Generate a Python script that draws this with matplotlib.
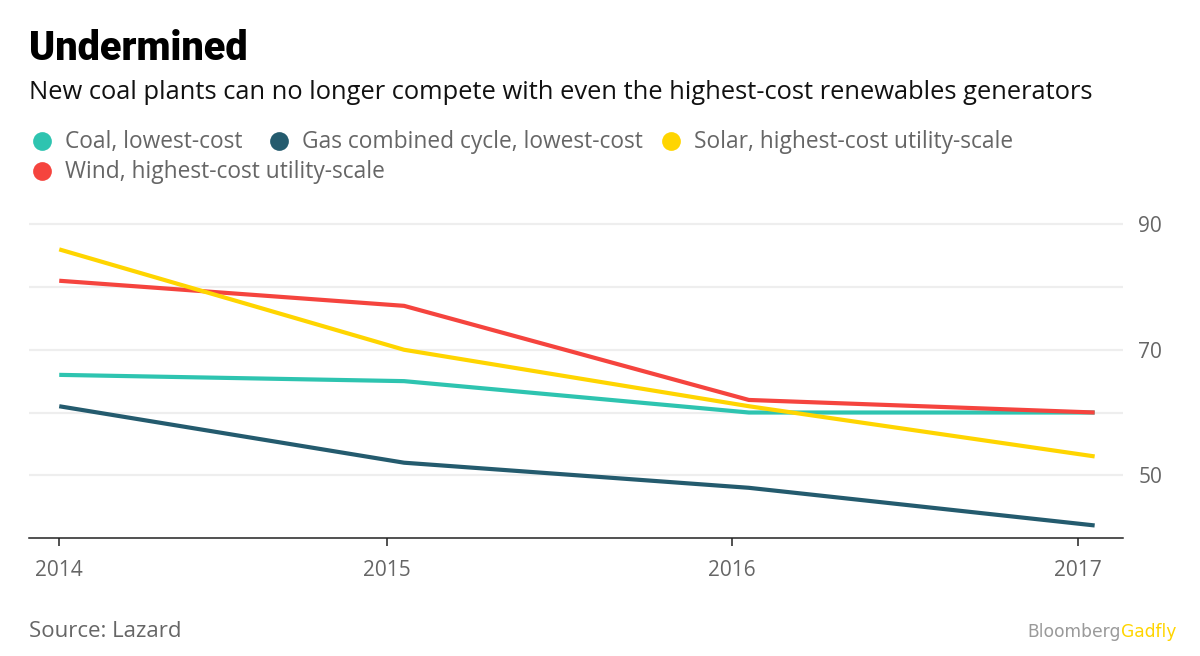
"""Undermined — LCOE of new coal vs gas, solar and wind (Lazard)."""

import matplotlib
matplotlib.use("Agg")
import matplotlib.pyplot as plt
import pandas as pd
from matplotlib.lines import Line2D

# data
DATES = pd.to_datetime(["2014-01-19", "2015-01-19", "2016-01-19", "2017-01-19"])
COAL = [66, 65, 60, 60]
GAS = [61, 52, 48, 42]
SOLAR = [86, 70, 61, 53]
WIND = [81, 77, 62, 60]
LABELS = ["Coal, lowest-cost", "Gas combined cycle, lowest-cost",
          "Solar, highest-cost utility-scale", "Wind, highest-cost utility-scale"]
TICK_DATES = pd.to_datetime(["2014-01-19", "2015-01-01", "2016-01-01", "2017-01-01"])
TICK_LABELS = ["2014", "2015", "2016", "2017"]
Y_LABELED = [50, 70, 90]
Y_GRID = [60, 80]

COLOR_COAL = "#2ec4b0"
COLOR_GAS = "#245b6e"
COLOR_SOLAR = "#ffd500"
COLOR_WIND = "#f5443e"
GRAY = "#666666"

W, H = 1200, 656
FONT = "Open Sans"

plt.rcParams["font.family"] = [FONT, "DejaVu Sans"]


def px(x, y):
    return x / W, 1 - y / H


fig = plt.figure(figsize=(12, 6.56), dpi=100)
ax = fig.add_axes([29 / W, (H - 538) / H, (1123 - 29) / W, (538 - 218) / H])

for vals, color in [(COAL, COLOR_COAL), (GAS, COLOR_GAS), (WIND, COLOR_WIND), (SOLAR, COLOR_SOLAR)]:
    ax.plot(DATES, vals, color=color, linewidth=3.0, solid_capstyle="butt",
            solid_joinstyle="round", zorder=3)

ax.set_ylim(40, 91)
ax.set_xlim(pd.Timestamp("2013-12-18"), pd.Timestamp("2017-02-18"))

ax.yaxis.tick_right()
ax.set_yticks(Y_LABELED)
ax.set_yticks(Y_GRID, minor=True)
ax.grid(axis="y", which="both", color="#eeeeee", linewidth=1.6, zorder=0)
ax.tick_params(axis="y", which="both", length=0, pad=11, labelsize=15, labelcolor=GRAY)

ax.set_xticks(TICK_DATES)
ax.set_xticklabels(TICK_LABELS)
ax.xaxis.set_minor_locator(matplotlib.ticker.NullLocator())
ax.tick_params(axis="x", length=6, width=1.1, color="#222222", pad=10,
               labelsize=15, labelcolor=GRAY)

for side in ["top", "left", "right"]:
    ax.spines[side].set_visible(False)
ax.spines["bottom"].set_color("#222222")
ax.spines["bottom"].set_linewidth(1.1)

# title and subtitle
fig.text(*px(29, 60), "Undermined", fontsize=28.5, fontweight="black", color="black",
         ha="left", va="baseline", family=["Roboto", "DejaVu Sans"])
fig.text(*px(29, 99), "New coal plants can no longer compete with even the highest-cost renewables generators",
         fontsize=18.4, color="#111111", ha="left", va="baseline")

# legend
legend_pos = [(42, 141), (279, 141), (671, 141), (42, 171)]
for (lx, ly), label, color in zip(legend_pos, LABELS, [COLOR_COAL, COLOR_GAS, COLOR_SOLAR, COLOR_WIND]):
    fx, fy = px(lx, ly)
    fig.add_artist(Line2D([fx], [fy], marker="o", markersize=13.5, color=color,
                          markeredgewidth=0, linestyle="none", transform=fig.transFigure))
    fig.text(*px(lx + 23, ly + 7), label, fontsize=16.4, color=GRAY, ha="left", va="baseline")

# footer
fig.text(*px(29, 637), "Source: Lazard", fontsize=16, color=GRAY, ha="left", va="baseline")
fig.text(*px(1121, 637), "Bloomberg", fontsize=12.3, color="#9a9a9a", ha="right",
         va="baseline", family=["Liberation Sans Narrow", "DejaVu Sans"])
fig.text(*px(1121, 637), "Gadfly", fontsize=12.3, color=COLOR_SOLAR, ha="left",
         va="baseline", family=["Liberation Sans Narrow", "DejaVu Sans"])

fig.savefig("out.png", dpi=100)
plt.close(fig)
